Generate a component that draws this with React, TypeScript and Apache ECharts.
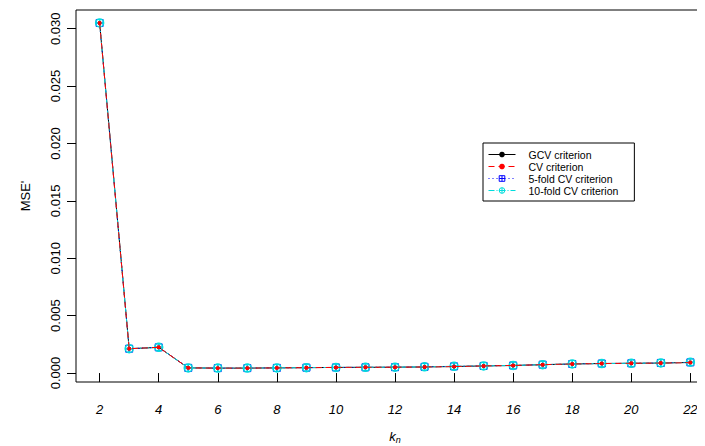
import React, { useEffect, useRef } from "react";
import * as echarts from "echarts";

const kValues = [2, 3, 4, 5, 6, 7, 8, 9, 10, 11, 12, 13, 14, 15, 16, 17, 18, 19, 20, 21, 22];
const gcv = [0.0305, 0.00212, 0.00224, 0.00045, 0.00043, 0.00043, 0.00045, 0.00047, 0.00049, 0.0005, 0.00051, 0.00053, 0.00057, 0.00062, 0.00066, 0.00073, 0.00079, 0.00083, 0.00085, 0.00087, 0.00092];
const cv = [0.0305, 0.00212, 0.00224, 0.00045, 0.00043, 0.00043, 0.00045, 0.00047, 0.00049, 0.0005, 0.00051, 0.00053, 0.00056, 0.00062, 0.00066, 0.00073, 0.00079, 0.00083, 0.00085, 0.00087, 0.00091];
const fold5 = [0.0305, 0.00212, 0.00224, 0.00045, 0.00043, 0.00043, 0.00045, 0.00047, 0.00049, 0.0005, 0.00051, 0.00054, 0.00058, 0.00062, 0.00066, 0.00073, 0.00079, 0.00083, 0.00085, 0.00088, 0.00093];
const fold10 = [0.0305, 0.00212, 0.00224, 0.00045, 0.00043, 0.00043, 0.00045, 0.00047, 0.00049, 0.0005, 0.00051, 0.00054, 0.00059, 0.00062, 0.00066, 0.00073, 0.00079, 0.00083, 0.00085, 0.00088, 0.00094];
const seriesNames = ["GCV criterion", "CV criterion", "5-fold CV criterion", "10-fold CV criterion"];
const xTicks = [2, 4, 6, 8, 10, 12, 14, 16, 18, 20, 22];
const yTicks = [0, 0.005, 0.01, 0.015, 0.02, 0.025, 0.03];

const FONT = "Liberation Sans, Arial, sans-serif";

const squareCross = "path://M0,0L10,0L10,10L0,10Z M5,0L5,10 M0,5L10,5";
const circlePlus = "path://M10,5A5,5,0,1,1,0,5A5,5,0,1,1,10,5Z M5,0L5,10 M0,5L10,5";

const colors = ["#000000", "#ff0000", "#0000ff", "#00dddd"];
const dashes: any[] = ["solid", [6, 4], [1, 3], [6, 2, 1, 2]];

function pairs(ys: number[]) {
  return kValues.map((k, i) => [k, ys[i]]);
}

export default function App() {
  const ref = useRef<HTMLDivElement>(null);
  useEffect(() => {
    if (!ref.current) return;
    const chart = echarts.init(ref.current, undefined, { renderer: "svg" });
    chart.setOption({
      animation: false,
      backgroundColor: "#fff",
      textStyle: { fontFamily: FONT },
      grid: {
        left: 76,
        top: 10,
        right: -9,
        bottom: 64,
        containLabel: false,
        outerBoundsMode: "none",
        show: true,
        borderColor: "#000",
        borderWidth: 1,
        backgroundColor: "transparent",
      },
      legend: {
        orient: "vertical",
        left: 483,
        top: 143,
        padding: [6, 16, 5, 5],
        borderColor: "#000",
        borderWidth: 1,
        itemWidth: 27,
        itemHeight: 7,
        itemGap: 1,
        textStyle: { fontSize: 10.5, lineHeight: 11, color: "#000", fontFamily: FONT, padding: [0, 0, 0, 8] },
        data: [
          { name: seriesNames[0], itemStyle: { color: colors[0], borderWidth: 0 }, lineStyle: { width: 1, color: colors[0], type: dashes[0] } },
          { name: seriesNames[1], itemStyle: { color: colors[1], borderWidth: 0 }, lineStyle: { width: 1, color: colors[1], type: dashes[1] } },
          { name: seriesNames[2], itemStyle: { color: "transparent", borderColor: colors[2], borderWidth: 1 }, lineStyle: { width: 1, color: colors[2], type: dashes[2] } },
          { name: seriesNames[3], itemStyle: { color: "transparent", borderColor: colors[3], borderWidth: 1 }, lineStyle: { width: 1, color: colors[3], type: dashes[3] } },
        ],
      },
      xAxis: {
        type: "value",
        min: 1.2,
        max: 22.8,
        name: "{k|k}{n|n}",
        nameLocation: "middle",
        nameGap: 47,
        nameTextStyle: {
          rich: {
            k: { fontSize: 13, fontStyle: "italic", color: "#000", fontFamily: FONT },
            n: { fontSize: 9, fontStyle: "italic", color: "#000", fontFamily: FONT, verticalAlign: "bottom", padding: [6, 0, 0, 0] },
          },
        },
        axisLine: { show: false },
        splitLine: { show: false },
        axisTick: { show: true, length: 9, customValues: xTicks, lineStyle: { color: "#000" } },
        axisLabel: {
          customValues: xTicks,
          margin: 21,
          fontSize: 13,
          fontStyle: "italic",
          color: "#000",
          fontFamily: FONT,
        },
      },
      yAxis: {
        type: "value",
        min: -0.00078,
        max: 0.03163,
        name: "MSE'",
        nameLocation: "middle",
        nameGap: 44,
        nameRotate: 90,
        nameTextStyle: { fontSize: 13, color: "#000", fontFamily: FONT },
        axisLine: { show: false },
        splitLine: { show: false },
        axisTick: { show: true, length: 9, customValues: yTicks, lineStyle: { color: "#000" } },
        axisLabel: {
          customValues: yTicks,
          rotate: 90,
          margin: 14,
          fontSize: 13,
          color: "#000",
          fontFamily: FONT,
          formatter: (v: number) => v.toFixed(3),
        },
      },
      series: [
        {
          name: seriesNames[0],
          type: "line",
          data: pairs(gcv),
          symbol: "circle",
          symbolSize: 4,
          itemStyle: { color: colors[0] },
          lineStyle: { color: colors[0], width: 1, type: dashes[0] },
          z: 2,
        },
        {
          name: seriesNames[1],
          type: "line",
          data: pairs(cv),
          symbol: "circle",
          symbolSize: 4,
          itemStyle: { color: colors[1] },
          lineStyle: { color: colors[1], width: 1, type: dashes[1] },
          z: 5,
        },
        {
          name: seriesNames[2],
          type: "line",
          data: pairs(fold5),
          symbol: squareCross,
          symbolSize: 7,
          itemStyle: { color: "transparent", borderColor: colors[2], borderWidth: 1 },
          lineStyle: { color: colors[2], width: 1, type: dashes[2] },
          z: 3,
        },
        {
          name: seriesNames[3],
          type: "line",
          data: pairs(fold10),
          symbol: circlePlus,
          symbolSize: 8,
          itemStyle: { color: "transparent", borderColor: colors[3], borderWidth: 1.5 },
          lineStyle: { color: colors[3], width: 1, type: dashes[3] },
          z: 4,
        },
      ],
    });
    return () => chart.dispose();
  }, []);
  return <div ref={ref} style={{ width: 705, height: 446, marginLeft: -8, marginTop: -8 }} />;
}
